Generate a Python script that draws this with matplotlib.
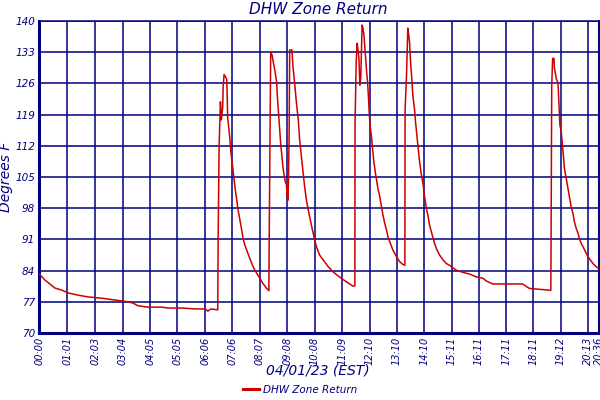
import matplotlib
matplotlib.use("Agg")
import matplotlib.pyplot as plt

NAVY = "#000080"
RED = "#cc0000"

# minutes after midnight, temperature (deg F)
minutes = [
    0, 12, 23, 34, 50, 63, 85, 107, 138, 167, 196, 207, 218, 240, 271, 284,
    315, 344, 366, 372, 379, 394,
    395, 397, 400, 402, 405, 406, 408, 411, 414, 416, 419, 421, 423, 426,
    428, 432, 436, 439, 443, 447, 450, 454, 458, 465, 472, 480, 487, 494,
    502, 507,
    507.5, 510, 511, 514, 516, 520, 524, 526, 529, 531, 533, 536, 538, 541,
    543, 546, 547, 549.5,
    551.7, 553, 558, 560, 564, 568, 572, 575, 579, 583, 586, 590, 594, 597,
    605, 608, 612, 619, 627, 638, 649, 664, 678, 693, 697,
    697.4, 700, 702, 704, 706, 708, 710, 713, 715, 717, 720, 723, 725, 727,
    729, 731, 734, 736, 739, 742, 745, 748, 752, 756, 759, 763, 767, 770,
    774, 778, 781, 785, 789, 796, 803, 807.5,
    808, 811, 813, 814, 816, 818, 820, 823, 825, 829, 831, 834, 837, 840,
    844, 848, 851, 855, 859, 862, 866, 870, 873, 877, 884, 892, 899, 906,
    921, 936, 951, 965, 980, 987, 995, 1002, 1068, 1076, 1083, 1127, 1130,
    1130.5, 1132, 1134, 1137, 1138, 1142, 1146, 1148, 1150, 1153, 1157,
    1160, 1164, 1168, 1171, 1175, 1179, 1182, 1186, 1190, 1193, 1197, 1201,
    1208, 1215, 1223, 1230, 1236,
]
temps = [
    83.2, 81.9, 81.0, 80.1, 79.6, 79.0, 78.5, 78.1, 77.8, 77.4, 77.0, 76.7,
    76.1, 75.8, 75.8, 75.6, 75.6, 75.4, 75.4, 74.9, 75.4, 75.2,
    91.6, 111.8, 121.9, 117.8, 120.8, 125.3, 128.0, 127.5, 126.9, 118.2,
    115.5, 113.3, 110.7, 108.1, 106.2, 102.8, 99.8, 97.6, 95.4, 93.1, 91.2,
    89.7, 88.6, 86.7, 84.9, 83.4, 82.3, 81.1, 80.0, 79.5,
    88.2, 120.4, 132.9, 132.4, 131.2, 129.0, 126.4, 122.7, 118.5, 115.5,
    112.6, 109.5, 107.3, 105.1, 104.0, 103.2, 100.6, 99.8,
    113.7, 133.5, 133.5, 130.1, 126.0, 121.5, 117.8, 113.3, 109.5, 105.8,
    102.8, 99.8, 97.6, 96.1, 92.4, 90.9, 89.4, 87.5, 86.4, 84.9, 83.7, 82.5,
    81.5, 80.5, 80.6,
    117.0, 130.9, 135.0, 133.5, 131.6, 125.6, 127.1, 139.1, 138.4, 136.9,
    132.8, 128.6, 126.4, 123.0, 118.9, 116.3, 113.7, 111.4, 108.4, 106.2,
    104.3, 102.4, 100.6, 98.3, 96.5, 94.6, 93.1, 91.6, 90.5, 89.4, 88.6,
    87.9, 87.1, 86.0, 85.4, 85.2,
    120.0, 127.5, 135.0, 138.4, 136.9, 135.0, 130.9, 126.8, 123.4, 120.0,
    117.4, 114.4, 111.4, 108.4, 105.5, 103.2, 100.6, 98.0, 96.1, 94.2, 92.7,
    91.2, 90.1, 89.0, 87.5, 86.4, 85.6, 85.2, 84.1, 83.6, 83.2, 82.6, 82.3,
    81.7, 81.3, 81.0, 81.0, 80.4, 80.0, 79.6, 79.6,
    89.7, 125.6, 131.6, 131.6, 129.4, 127.1, 126.0, 121.2, 116.7, 115.2,
    110.7, 107.0, 104.7, 102.4, 100.6, 98.3, 96.8, 95.0, 93.5, 92.4, 91.2,
    90.1, 89.4, 87.9, 86.7, 85.6, 84.9, 84.4,
]

tick_labels = [
    "00:00", "01:01", "02:03", "03:04", "04:05", "05:05", "06:06", "07:06",
    "08:07", "09:08", "10:08", "11:09", "12:10", "13:10", "14:10", "15:11",
    "16:11", "17:11", "18:11", "19:12", "20:13", "20:36",
]
y_ticks = [70, 77, 84, 91, 98, 105, 112, 119, 126, 133, 140]


def to_min(s):
    h, m = s.split(":")
    return int(h) * 60 + int(m)


tick_pos = [to_min(s) for s in tick_labels]

fig = plt.figure(figsize=(6, 4), dpi=100)
ax = fig.add_axes([0.0657, 0.1675, 0.9323, 0.78])

ax.plot(minutes, temps, color=RED, lw=1.1, label="DHW Zone Return", zorder=3)

ax.set_xlim(0, 1236)
ax.set_ylim(70, 140)
ax.set_xticks(tick_pos)
ax.set_xticklabels(tick_labels, rotation=90, fontstyle="italic", fontsize=7, color=NAVY)
ax.set_yticks(y_ticks)
ax.set_yticklabels([str(v) for v in y_ticks], fontstyle="italic", fontsize=7.5, color=NAVY)
ax.tick_params(length=0, pad=3)
ax.grid(True, color=NAVY, lw=1.1)
ax.set_axisbelow(True)

for side in ["left", "bottom", "right"]:
    ax.spines[side].set_color(NAVY)
    ax.spines[side].set_linewidth(2.2)
ax.spines["top"].set_color(NAVY)
ax.spines["top"].set_linewidth(1.1)

fig.text(0.53, 0.977, "DHW Zone Return", ha="center", va="center",
         fontstyle="italic", fontsize=11, color=NAVY)
ax.set_ylabel("Degrees F", fontstyle="italic", fontsize=10, color=NAVY, labelpad=2)
fig.text(0.53, 0.075, "04/01/23 (EST)", ha="center", va="center",
         fontstyle="italic", fontsize=10, color=NAVY)

leg = fig.legend(loc="center", bbox_to_anchor=(0.5, 0.025), frameon=False,
                 handlelength=1.5, handletextpad=0.4, fontsize=7.5)
for t in leg.get_texts():
    t.set_color(NAVY)
    t.set_fontstyle("italic")
for h in leg.get_lines():
    h.set_linewidth(2.2)

fig.savefig("out.png", dpi=100)
